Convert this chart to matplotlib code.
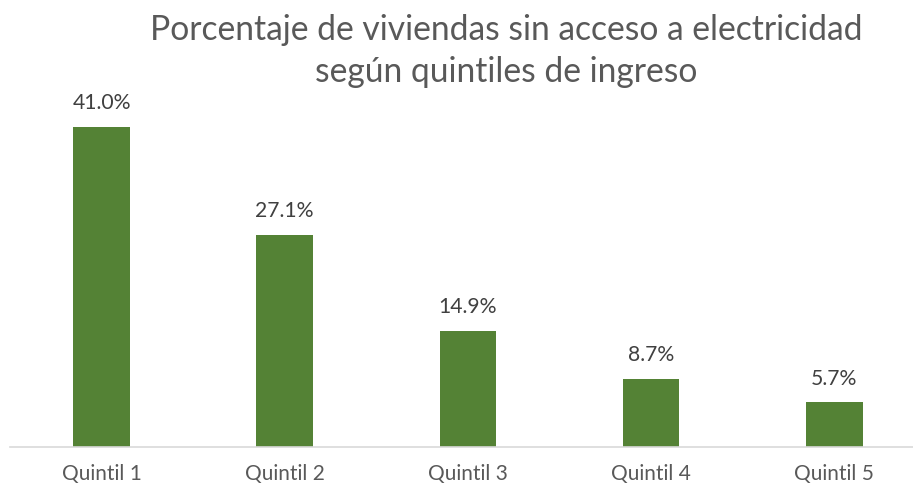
import matplotlib.pyplot as plt

# %% Data
categorias = ["Quintil 1", "Quintil 2", "Quintil 3", "Quintil 4", "Quintil 5"]
porcentajes = [41.0, 27.1, 14.9, 8.7, 5.7]
titulo = "Porcentaje de viviendas sin acceso a electricidad\nsegún quintiles de ingreso"

plt.rcParams['font.family'] = ['Lato', 'DejaVu Sans']

# %% Plot
fig = plt.figure(figsize=(9.13, 4.88), dpi=100)
ax = fig.add_axes([10 / 913, 41 / 488, 903 / 913, 347 / 488])

x = range(len(categorias))
ax.bar(x, porcentajes, width=0.31, color="#548235")

for xi, v in zip(x, porcentajes):
    ax.annotate("{:.1f}%".format(v), (xi, v), textcoords="offset points",
                xytext=(0, 10), ha="center", va="bottom",
                fontsize=15.2, color="#404040")

ax.set_xlim(-0.5, 4.43)
ax.set_ylim(0, 44.4)
ax.set_xticks(list(x))
ax.set_xticklabels(categorias, fontsize=15, color="#595959")
ax.tick_params(axis="x", length=0, pad=12)
ax.set_yticks([])

for s in ["top", "right", "left"]:
    ax.spines[s].set_visible(False)
ax.spines["bottom"].set_color("#d9d9d9")
ax.spines["bottom"].set_linewidth(1.2)

fig.text(506 / 913, 1 - 51 / 488, titulo, ha="center", va="center",
         fontsize=24.2, color="#595959", linespacing=1.42)

fig.savefig("out.png", dpi=100)
